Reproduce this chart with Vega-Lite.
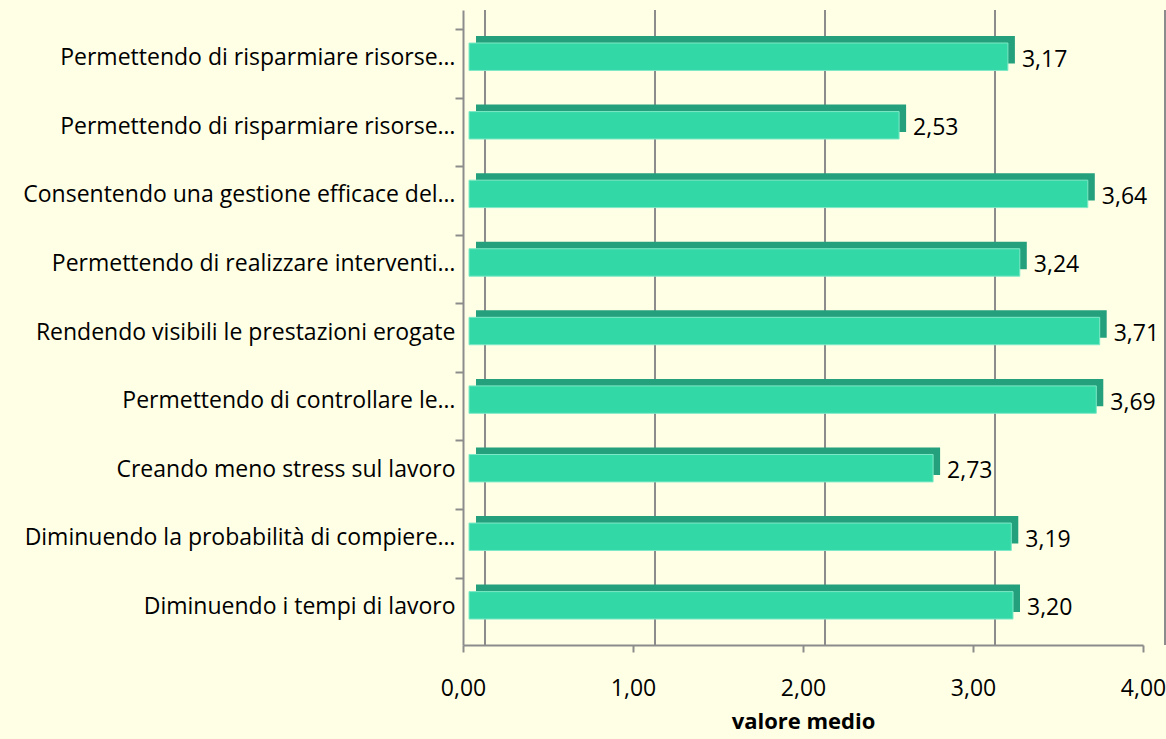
{
  "$schema": "https://vega.github.io/schema/vega-lite/v6.json",
  "autosize": {"type": "none"},
  "width": 680,
  "height": 635,
  "padding": {"left": 463, "top": 10, "right": 23, "bottom": 94},
  "background": "#FFFFE6",
  "config": {
    "view": {"stroke": null},
    "locale": {"number": {"decimal": ",", "thousands": ".", "grouping": [3], "currency": ["", " €"]}},
    "font": "Open Sans"
  },
  "datasets": {
    "bars": [
      {"voce": "Permettendo di risparmiare risorse…", "valore": 3.17},
      {"voce": "Permettendo di risparmiare risorse… ", "valore": 2.53},
      {"voce": "Consentendo una gestione efficace del…", "valore": 3.64},
      {"voce": "Permettendo di realizzare interventi…", "valore": 3.24},
      {"voce": "Rendendo visibili le prestazioni erogate", "valore": 3.71},
      {"voce": "Permettendo di controllare le…", "valore": 3.69},
      {"voce": "Creando meno stress sul lavoro", "valore": 2.73},
      {"voce": "Diminuendo la probabilità di compiere…", "valore": 3.19},
      {"voce": "Diminuendo i tempi di lavoro", "valore": 3.20}
    ],
    "grid": [{"k": 0}, {"k": 1}, {"k": 2}, {"k": 3}, {"k": 4}]
  },
  "layer": [
    {
      "data": {"name": "grid"},
      "mark": {"type": "rule", "color": "#8C8C8C", "strokeWidth": 2, "xOffset": 22, "x2Offset": 22, "y2Offset": -20},
      "encoding": {
        "x": {"field": "k", "type": "quantitative", "scale": {"domain": [0, 4], "nice": false, "zero": true}}
      }
    },
    {
      "data": {"name": "bars"},
      "mark": {"type": "bar", "color": "#25A07C", "xOffset": 13, "x2Offset": 13, "yOffset": -7},
      "encoding": {
        "y": {"field": "voce", "type": "nominal", "sort": null,
              "scale": {"paddingInner": 0.6, "paddingOuter": 0.43, "align": 0.56},
              "axis": {"title": null, "ticks": true, "bandPosition": 0, "tickOffset": -14, "labelOffset": 15,
                       "tickColor": "#8C8C8C", "tickWidth": 2, "tickSize": 8,
                       "domain": true, "domainColor": "#8C8C8C", "domainWidth": 2,
                       "labelFontSize": 23, "labelColor": "#000000", "labelPadding": 0, "labelLimit": 470, "labelFont": "Open Sans"}},
        "x": {"field": "valore", "type": "quantitative",
              "scale": {"domain": [0, 4], "nice": false},
              "axis": {"values": [0, 1, 2, 3, 4], "format": ".2f", "grid": false, "labelFlush": false,
                       "domainColor": "#8C8C8C", "domainWidth": 2, "tickColor": "#8C8C8C", "tickWidth": 2, "tickSize": 7,
                       "labelFontSize": 23, "labelColor": "#000000", "labelPadding": 25, "labelFont": "Open Sans",
                       "title": "valore medio", "titleFontSize": 22, "titleFontWeight": "bold", "titleColor": "#000000",
                       "titlePadding": 11, "titleFont": "Open Sans"}}
      }
    },
    {
      "data": {"name": "bars"},
      "mark": {"type": "bar", "color": "#33D8A7", "stroke": "#7EE9C6", "strokeWidth": 1, "xOffset": 6, "x2Offset": 6},
      "encoding": {
        "y": {"field": "voce", "type": "nominal", "sort": null},
        "x": {"field": "valore", "type": "quantitative"}
      }
    },
    {
      "data": {"name": "bars"},
      "mark": {"type": "text", "align": "left", "baseline": "middle", "dx": 20, "dy": 3, "fontSize": 23, "color": "#000000", "font": "Open Sans"},
      "encoding": {
        "y": {"field": "voce", "type": "nominal", "sort": null},
        "x": {"field": "valore", "type": "quantitative"},
        "text": {"field": "valore", "type": "quantitative", "format": ".2f"}
      }
    }
  ]
}
